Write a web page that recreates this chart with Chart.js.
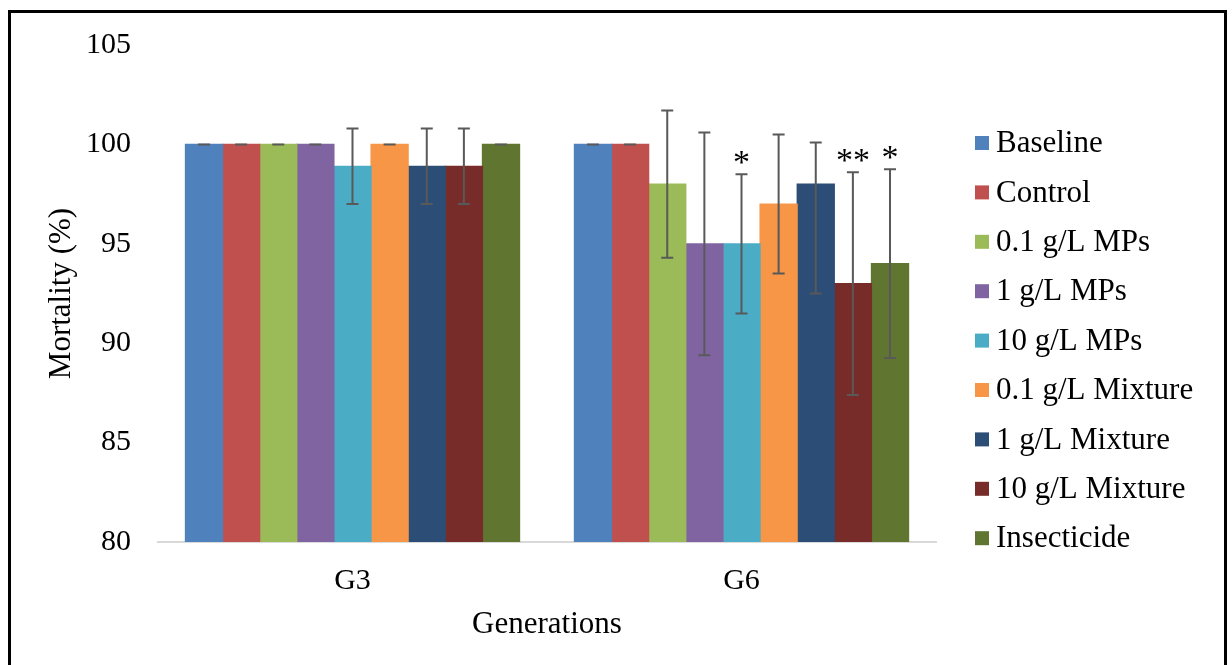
<!DOCTYPE html>
<html>
<head>
<meta charset="utf-8">
<script src="https://cdn.jsdelivr.net/npm/chart.js@4.4.1/dist/chart.umd.min.js"></script>
<style>
  html, body { margin: 0; padding: 0; background: #ffffff; overflow: hidden; }
  #wrap { position: relative; width: 1232px; height: 665px; }
  #frame { position: absolute; left: 8px; top: 10px; width: 1219px; height: 800px; box-sizing: border-box; border: 3px solid #000; pointer-events: none; }
  #c { position: absolute; left: 0; top: 0; }
</style>
</head>
<body>
<div id="wrap">
  <canvas id="c" width="1232" height="665"></canvas>
  <div id="frame"></div>
</div>
<script>
// ---- data ----
const categories = ['G3', 'G6'];
const seriesNames = ['Baseline', 'Control', '0.1 g/L MPs', '1 g/L MPs', '10 g/L MPs', '0.1 g/L Mixture', '1 g/L Mixture', '10 g/L Mixture', 'Insecticide'];
const baseline    = [100, 100];
const control     = [100, 100];
const mps01       = [100, 98];
const mps1        = [100, 95];
const mps10       = [98.9, 95];
const mix01       = [100, 97];
const mix1        = [98.9, 98];
const mix10       = [98.9, 93];
const insecticide = [100, 94];
// error bar extents (up / down)
const errUp   = [[0, 0], [0, 0], [0, 3.7], [0, 5.6], [1.9, 3.5], [0, 3.5], [1.9, 2.1], [1.9, 5.6], [0, 4.75]];
const errDown = [[0, 0], [0, 0], [0, 3.7], [0, 5.6], [1.9, 3.5], [0, 3.5], [1.9, 5.5], [1.9, 5.6], [0, 4.75]];
// significance marks
const sigMarks = [['', ''], ['', ''], ['', ''], ['', ''], ['', '*'], ['', ''], ['', ''], ['', '**'], ['', '*']];
const yTicks = [80, 85, 90, 95, 100, 105];

const seriesValues = [baseline, control, mps01, mps1, mps10, mix01, mix1, mix10, insecticide];
const colors = ['#4F81BD', '#C0504D', '#9BBB59', '#8064A2', '#4BACC6', '#F79646', '#2C4D75', '#772C2A', '#5F7530'];

const FONT = '"Liberation Serif", "Times New Roman", serif';

const errorBarPlugin = {
  id: 'errorBars',
  afterDatasetsDraw(chart) {
    const ctx = chart.ctx;
    const y = chart.scales.y;
    ctx.save();
    chart.data.datasets.forEach((ds, i) => {
      const meta = chart.getDatasetMeta(i);
      meta.data.forEach((el, j) => {
        const v = ds.data[j];
        const top = y.getPixelForValue(v + errUp[i][j]);
        const bot = y.getPixelForValue(v - errDown[i][j]);
        const x = el.x;
        ctx.strokeStyle = '#595959';
        ctx.lineWidth = 2;
        ctx.beginPath();
        ctx.moveTo(x, top); ctx.lineTo(x, bot);
        ctx.moveTo(x - 6, top); ctx.lineTo(x + 6, top);
        ctx.moveTo(x - 6, bot); ctx.lineTo(x + 6, bot);
        ctx.stroke();
        const mark = sigMarks[i][j];
        if (mark) {
          ctx.fillStyle = '#000';
          ctx.font = '34px ' + FONT;
          ctx.textAlign = 'center';
          ctx.textBaseline = 'alphabetic';
          ctx.fillText(mark, x, top - 1);
        }
      });
    });
    ctx.restore();
  }
};

const legendPlugin = {
  id: 'sideLegend',
  afterDraw(chart) {
    const ctx = chart.ctx;
    ctx.save();
    ctx.font = '31px ' + FONT;
    ctx.textBaseline = 'middle';
    ctx.textAlign = 'left';
    chart.data.datasets.forEach((ds, i) => {
      const cy = 143 + i * 49.4;
      ctx.fillStyle = ds.backgroundColor;
      ctx.fillRect(975, cy - 7, 14, 14);
      ctx.fillStyle = '#000';
      ctx.fillText(ds.label, 996, cy + 1);
    });
    ctx.restore();
  }
};

new Chart(document.getElementById('c'), {
  type: 'bar',
  data: {
    labels: categories,
    datasets: seriesNames.map((name, i) => ({
      label: name,
      data: seriesValues[i],
      backgroundColor: colors[i],
      borderWidth: 0,
      inflateAmount: 0.6,
      categoryPercentage: 0.859,
      barPercentage: 1.0
    }))
  },
  options: {
    responsive: false,
    animation: false,
    devicePixelRatio: 1,
    layout: { padding: { left: 0, right: 296, top: 41, bottom: 0 } },
    plugins: { legend: { display: false }, tooltip: { enabled: false } },
    scales: {
      x: {
        grid: { display: false, drawTicks: false },
        border: { display: true, color: '#d9d9d9', width: 2 },
        ticks: { color: '#000', font: { family: FONT, size: 30 }, padding: 21 },
        title: { display: true, text: 'Generations', color: '#000', font: { family: FONT, size: 31 }, padding: { top: 0, bottom: 22 } },
        afterFit(scale) { scale.height = 123; }
      },
      y: {
        min: 80, max: 105,
        grid: { display: false, drawTicks: false },
        border: { display: false },
        afterBuildTicks(scale) { scale.ticks = yTicks.map(v => ({ value: v })); },
        ticks: { color: '#000', font: { family: FONT, size: 30 }, padding: 27 },
        title: { display: true, text: 'Mortality (%)', color: '#000', font: { family: FONT, size: 31 }, padding: { top: 43, bottom: 0 } },
        afterFit(scale) { scale.width = 158; }
      }
    }
  },
  plugins: [errorBarPlugin, legendPlugin]
});
</script>
</body>
</html>
